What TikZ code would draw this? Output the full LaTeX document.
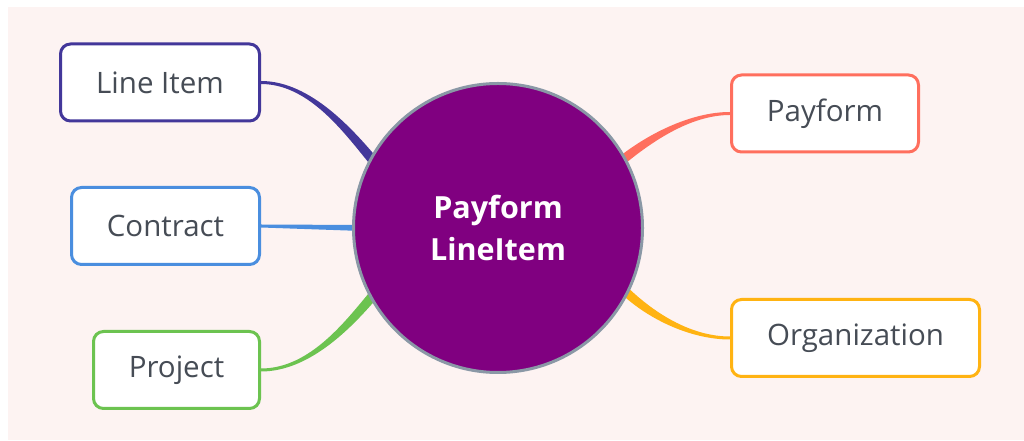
\documentclass[tikz,border=0pt]{standalone}
\usepackage{fontspec}
\setmainfont{Open Sans}
\usetikzlibrary{calc}

\definecolor{paper}{HTML}{FDF3F2}
\definecolor{hubfill}{HTML}{800080}
\definecolor{hubring}{HTML}{8A98A6}
\definecolor{labelgray}{HTML}{464C55}
\definecolor{lineitemcol}{HTML}{43379A}
\definecolor{contractcol}{HTML}{4A8EDF}
\definecolor{projectcol}{HTML}{6CC350}
\definecolor{payformcol}{HTML}{FF6F5E}
\definecolor{orgcol}{HTML}{FFB312}

\pgfdeclarelayer{bg}
\pgfdeclarelayer{links}
\pgfsetlayers{bg,links,main}

\tikzset{
    topic/.style={draw=#1, line width=3pt, fill=white, rounded corners=10pt,
        minimum height=77pt, text=labelgray, font=\fontsize{29.5}{34}\selectfont},
    hub/.style={circle, draw=hubring, line width=3pt, fill=hubfill,
        minimum size=289pt, text=white, align=center,
        font=\bfseries\fontsize{30.5}{42}\selectfont}
}

\begin{document}
\begin{tikzpicture}[x=1pt,y=1pt]
    
        \useasboundingbox (0,0) rectangle (1024,441);
        
        \node[hub] (hub) at (498,213) {Payform\\LineItem};
        \node[topic=lineitemcol, minimum width=199pt] (lineitem) at (160,358.5) {Line Item};
        \node[topic=contractcol, minimum width=188pt] (contract) at (165.5,215) {Contract};
        \node[topic=projectcol, minimum width=166pt] (project) at (176.5,71) {Project};
        \node[topic=payformcol, minimum width=187pt] (payform) at (825,327.5) {Payform};
        \node[topic=orgcol, minimum width=248pt] (organization) at (855.5,103) {Organization};
        
        \begin{pgfonlayer}{bg}
        \fill[white] (0,0) rectangle (1024,441);
        \fill[paper] (8,1) rectangle (1024,434);
        \end{pgfonlayer}
        
        \begin{pgfonlayer}{links}
        \fill[lineitemcol] ($(lineitem.east)+(0,1.5)$) .. controls +(50,0) and +(-26,31) .. ($(hub.151)+(10,-4.6)$)
            -- ($(hub.151)+(2.8,-10.8)$) .. controls +(-26,31) and +(50,0) .. ($(lineitem.east)+(0,-1.5)$) -- cycle;
        \fill[contractcol] ($(contract.east)+(0,1.5)$) -- ($(hub.180)+(10,3)$)
            -- ($(hub.180)+(10,-3)$) -- ($(contract.east)+(0,-1.5)$) -- cycle;
        \fill[projectcol] ($(project.east)+(0,1.5)$) .. controls +(50,0) and +(-26,-31) .. ($(hub.209)+(2.8,10.8)$)
            -- ($(hub.209)+(10,4.6)$) .. controls +(-26,-31) and +(50,0) .. ($(project.east)+(0,-1.5)$) -- cycle;
        \fill[payformcol] ($(payform.west)+(0,1.5)$) .. controls +(-40,0) and +(30,25) .. ($(hub.29)+(-10.6,-2.9)$)
            -- ($(hub.29)+(-4.8,-9.9)$) .. controls +(30,25) and +(-40,0) .. ($(payform.west)+(0,-1.5)$) -- cycle;
        \fill[orgcol] ($(organization.west)+(0,1.5)$) .. controls +(-40,0) and +(28,-28) .. ($(hub.333)+(-3.9,10.3)$)
            -- ($(hub.333)+(-10.3,3.9)$) .. controls +(28,-28) and +(-40,0) .. ($(organization.west)+(0,-1.5)$) -- cycle;
        \end{pgfonlayer}
        
\end{tikzpicture}
\end{document}
